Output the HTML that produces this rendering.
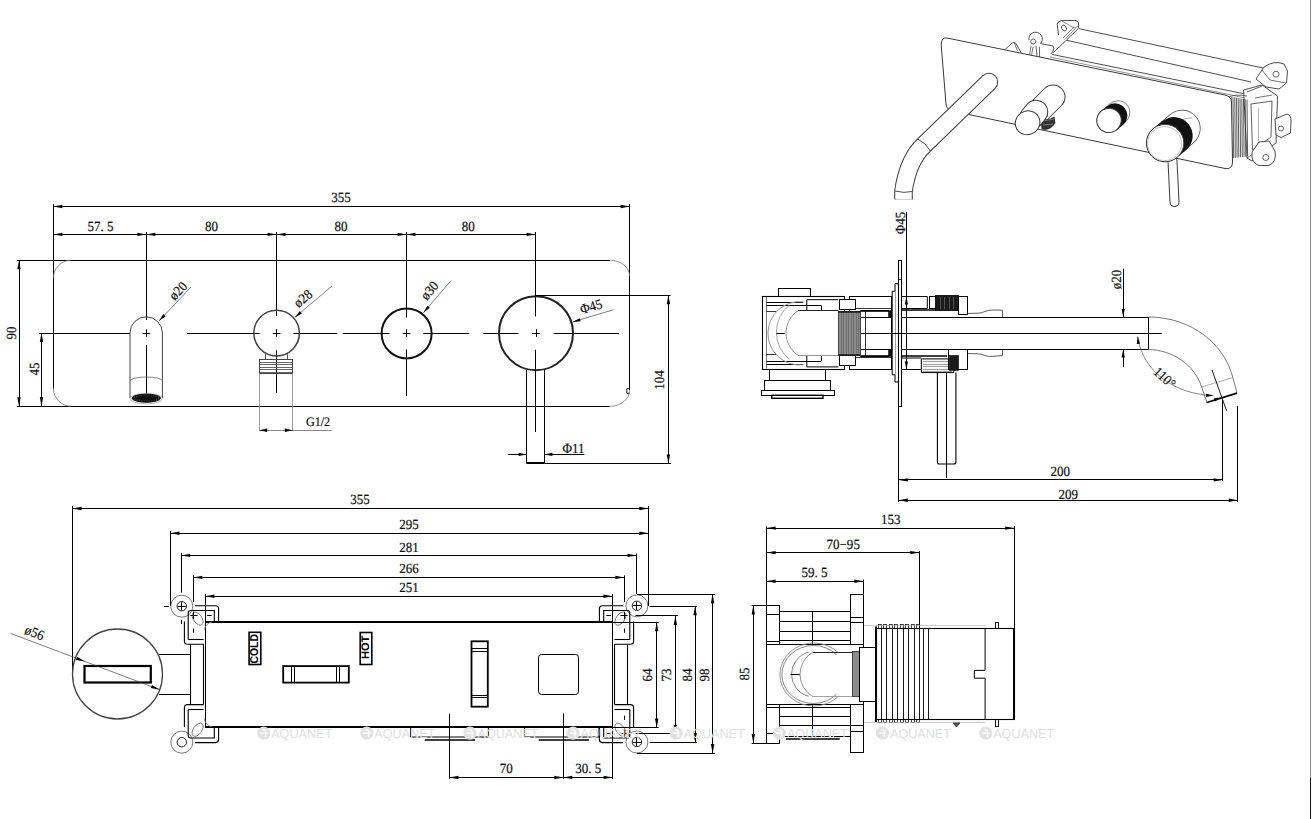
<!DOCTYPE html>
<html><head><meta charset="utf-8"><title>Drawing</title>
<style>html,body{margin:0;padding:0;background:#fff;} svg{display:block;} </style>
</head><body>
<svg width="1312" height="819" viewBox="0 0 1312 819">
<rect width="1312" height="819" fill="#fff"/>
<line x1="53.4" y1="206.5" x2="629.6" y2="206.5" stroke="#000" stroke-width="1.0" />
<path d="M53.4,206.5 L62.4,204.8 L62.4,208.2 Z" fill="#000"/>
<path d="M629.6,206.5 L620.6,208.2 L620.6,204.8 Z" fill="#000"/>
<text x="0" y="0" style="font-family:'Liberation Serif';font-size:14px;text-rendering:geometricPrecision" text-anchor="middle" fill="#111" stroke="#111" stroke-width="0.2" transform="translate(341.0 202.0) rotate(0) scale(0.93 1)" >355</text>
<line x1="53.5" y1="204.0" x2="53.5" y2="388.5" stroke="#000" stroke-width="1.0" />
<line x1="629.5" y1="204.0" x2="629.5" y2="390.0" stroke="#000" stroke-width="1.0" />
<line x1="53.4" y1="234.5" x2="146.4" y2="234.5" stroke="#000" stroke-width="1.0" />
<path d="M53.4,234.4 L62.4,232.7 L62.4,236.1 Z" fill="#000"/>
<path d="M146.4,234.4 L137.4,236.1 L137.4,232.7 Z" fill="#000"/>
<line x1="146.4" y1="234.5" x2="276.6" y2="234.5" stroke="#000" stroke-width="1.0" />
<path d="M146.4,234.4 L155.4,232.7 L155.4,236.1 Z" fill="#000"/>
<path d="M276.6,234.4 L267.6,236.1 L267.6,232.7 Z" fill="#000"/>
<line x1="276.6" y1="234.5" x2="406.6" y2="234.5" stroke="#000" stroke-width="1.0" />
<path d="M276.6,234.4 L285.6,232.7 L285.6,236.1 Z" fill="#000"/>
<path d="M406.6,234.4 L397.6,236.1 L397.6,232.7 Z" fill="#000"/>
<line x1="406.6" y1="234.5" x2="535.6" y2="234.5" stroke="#000" stroke-width="1.0" />
<path d="M406.6,234.4 L415.6,232.7 L415.6,236.1 Z" fill="#000"/>
<path d="M535.6,234.4 L526.6,236.1 L526.6,232.7 Z" fill="#000"/>
<text x="0" y="0" style="font-family:'Liberation Serif';font-size:14px;text-rendering:geometricPrecision" text-anchor="middle" fill="#111" stroke="#111" stroke-width="0.2" transform="translate(100.5 230.8) rotate(0) scale(0.93 1)" >57. 5</text>
<text x="0" y="0" style="font-family:'Liberation Serif';font-size:14px;text-rendering:geometricPrecision" text-anchor="middle" fill="#111" stroke="#111" stroke-width="0.2" transform="translate(211.4 230.8) rotate(0) scale(0.93 1)" >80</text>
<text x="0" y="0" style="font-family:'Liberation Serif';font-size:14px;text-rendering:geometricPrecision" text-anchor="middle" fill="#111" stroke="#111" stroke-width="0.2" transform="translate(341.0 230.8) rotate(0) scale(0.93 1)" >80</text>
<text x="0" y="0" style="font-family:'Liberation Serif';font-size:14px;text-rendering:geometricPrecision" text-anchor="middle" fill="#111" stroke="#111" stroke-width="0.2" transform="translate(468.3 230.8) rotate(0) scale(0.93 1)" >80</text>
<line x1="17.0" y1="260.5" x2="610.0" y2="260.5" stroke="#000" stroke-width="1.0" />
<line x1="17.0" y1="406.5" x2="609.7" y2="406.5" stroke="#000" stroke-width="1.0" />
<path d="M53.4,277.8 A18,18 0 0 1 70.5,260.2" stroke="#777" stroke-width="0.8" fill="none" />
<path d="M610,260.2 A19.6,16 0 0 1 629.6,276" stroke="#777" stroke-width="0.8" fill="none" />
<path d="M53.4,388.5 A18,18 0 0 0 71,406.3" stroke="#777" stroke-width="0.8" fill="none" />
<path d="M609.7,406.3 A19.6,16 0 0 0 629.6,390" stroke="#777" stroke-width="0.8" fill="none" />
<path d="M629.6,388.7 L626.8,388.7 L626.8,393.3 L629.6,393.3" stroke="#000" stroke-width="0.9" fill="none" />
<line x1="19.5" y1="260.2" x2="19.5" y2="406.3" stroke="#000" stroke-width="1.0" />
<path d="M19.0,260.2 L20.7,269.2 L17.3,269.2 Z" fill="#000"/>
<path d="M19.0,406.3 L17.3,397.3 L20.7,397.3 Z" fill="#000"/>
<text x="0" y="0" style="font-family:'Liberation Serif';font-size:14px;text-rendering:geometricPrecision" text-anchor="middle" fill="#111" stroke="#111" stroke-width="0.2" transform="translate(12.0 333.0) rotate(-90) scale(0.93 1)" dominant-baseline="central">90</text>
<line x1="41.5" y1="333.0" x2="41.5" y2="406.3" stroke="#000" stroke-width="1.0" />
<path d="M41.5,333.0 L43.2,342.0 L39.8,342.0 Z" fill="#000"/>
<path d="M41.5,406.3 L39.8,397.3 L43.2,397.3 Z" fill="#000"/>
<text x="0" y="0" style="font-family:'Liberation Serif';font-size:14px;text-rendering:geometricPrecision" text-anchor="middle" fill="#111" stroke="#111" stroke-width="0.2" transform="translate(35.0 369.0) rotate(-90) scale(0.93 1)" dominant-baseline="central">45</text>
<line x1="39.0" y1="333.5" x2="130.0" y2="333.5" stroke="#000" stroke-width="1.0" />
<line x1="187.0" y1="333.5" x2="259.6" y2="333.5" stroke="#000" stroke-width="1.0" />
<line x1="293.4" y1="333.5" x2="337.3" y2="333.5" stroke="#000" stroke-width="1.0" />
<line x1="342.8" y1="333.5" x2="389.5" y2="333.5" stroke="#000" stroke-width="1.0" />
<line x1="423.4" y1="333.5" x2="469.2" y2="333.5" stroke="#000" stroke-width="1.0" />
<line x1="483.3" y1="333.5" x2="518.5" y2="333.5" stroke="#000" stroke-width="1.0" />
<line x1="553.6" y1="333.5" x2="618.9" y2="333.5" stroke="#000" stroke-width="1.0" />
<line x1="142.6" y1="333.5" x2="150.2" y2="333.5" stroke="#000" stroke-width="1.0" />
<line x1="146.5" y1="329.2" x2="146.5" y2="336.8" stroke="#000" stroke-width="1.0" />
<line x1="272.8" y1="333.5" x2="280.4" y2="333.5" stroke="#000" stroke-width="1.0" />
<line x1="276.5" y1="329.2" x2="276.5" y2="336.8" stroke="#000" stroke-width="1.0" />
<line x1="402.8" y1="333.5" x2="410.4" y2="333.5" stroke="#000" stroke-width="1.0" />
<line x1="406.5" y1="329.2" x2="406.5" y2="336.8" stroke="#000" stroke-width="1.0" />
<line x1="532.2" y1="333.5" x2="539.8" y2="333.5" stroke="#000" stroke-width="1.0" />
<line x1="536.5" y1="329.2" x2="536.5" y2="336.8" stroke="#000" stroke-width="1.0" />
<line x1="146.5" y1="232.0" x2="146.5" y2="320.0" stroke="#000" stroke-width="1.0" />
<line x1="146.5" y1="345.0" x2="146.5" y2="402.0" stroke="#000" stroke-width="1.0" />
<line x1="276.5" y1="232.0" x2="276.5" y2="316.0" stroke="#000" stroke-width="1.0" />
<line x1="276.5" y1="350.3" x2="276.5" y2="393.0" stroke="#000" stroke-width="1.0" />
<line x1="406.5" y1="232.0" x2="406.5" y2="317.5" stroke="#000" stroke-width="1.0" />
<line x1="406.5" y1="349.5" x2="406.5" y2="396.0" stroke="#000" stroke-width="1.0" />
<line x1="535.5" y1="232.0" x2="535.5" y2="316.4" stroke="#000" stroke-width="1.0" />
<line x1="535.5" y1="349.8" x2="535.5" y2="432.0" stroke="#000" stroke-width="1.0" />
<path d="M130,333 A16.2,16.2 0 0 1 162.4,333 L162.4,398 M130,333 L130,398" stroke="#444" stroke-width="1.0" fill="none" />
<path d="M130,381 A16.2,4 0 0 1 162.4,381" stroke="#666" stroke-width="0.8" fill="none" />
<ellipse cx="146.3" cy="398.6" rx="16.2" ry="5.2" stroke="#999" stroke-width="0.7" fill="none" transform="rotate(0 146.3 398.6)"/>
<ellipse cx="146.3" cy="398.2" rx="14.2" ry="4.0" stroke="#111" stroke-width="1.0" fill="#111" transform="rotate(0 146.3 398.2)"/>
<line x1="134.3" y1="395.5" x2="134.9" y2="401.0" stroke="#777" stroke-width="0.5" />
<line x1="136.7" y1="395.5" x2="137.3" y2="401.0" stroke="#777" stroke-width="0.5" />
<line x1="139.1" y1="395.5" x2="139.7" y2="401.0" stroke="#777" stroke-width="0.5" />
<line x1="141.5" y1="395.5" x2="142.1" y2="401.0" stroke="#777" stroke-width="0.5" />
<line x1="143.9" y1="395.5" x2="144.5" y2="401.0" stroke="#777" stroke-width="0.5" />
<line x1="146.3" y1="395.5" x2="146.9" y2="401.0" stroke="#777" stroke-width="0.5" />
<line x1="148.7" y1="395.5" x2="149.3" y2="401.0" stroke="#777" stroke-width="0.5" />
<line x1="151.1" y1="395.5" x2="151.7" y2="401.0" stroke="#777" stroke-width="0.5" />
<line x1="153.5" y1="395.5" x2="154.1" y2="401.0" stroke="#777" stroke-width="0.5" />
<line x1="155.9" y1="395.5" x2="156.5" y2="401.0" stroke="#777" stroke-width="0.5" />
<line x1="158.3" y1="395.5" x2="158.9" y2="401.0" stroke="#777" stroke-width="0.5" />
<ellipse cx="146.3" cy="398.2" rx="10.5" ry="2.0" stroke="#111" stroke-width="0.5" fill="#111" transform="rotate(0 146.3 398.2)"/>
<circle cx="276.6" cy="333.1" r="22.8" stroke="#444" stroke-width="1.6" fill="none"/>
<line x1="265.5" y1="352.6" x2="265.5" y2="360.0" stroke="#444" stroke-width="0.9" />
<line x1="287.5" y1="352.6" x2="287.5" y2="360.0" stroke="#444" stroke-width="0.9" />
<rect x="259.5" y="359.5" width="33.0" height="14.0" stroke="#444" stroke-width="1.0" fill="none" rx="0"/>
<line x1="259.5" y1="362.5" x2="292.5" y2="362.5" stroke="#555" stroke-width="0.9" />
<line x1="259.5" y1="364.5" x2="292.5" y2="364.5" stroke="#555" stroke-width="0.9" />
<line x1="259.5" y1="367.5" x2="292.5" y2="367.5" stroke="#555" stroke-width="0.9" />
<line x1="259.5" y1="369.5" x2="292.5" y2="369.5" stroke="#555" stroke-width="0.9" />
<line x1="259.5" y1="372.5" x2="292.5" y2="372.5" stroke="#555" stroke-width="0.9" />
<line x1="259.5" y1="373.4" x2="259.5" y2="431.0" stroke="#777" stroke-width="0.7" />
<line x1="292.5" y1="373.4" x2="292.5" y2="431.0" stroke="#777" stroke-width="0.7" />
<line x1="259.2" y1="430.5" x2="331.8" y2="430.5" stroke="#555" stroke-width="0.7" />
<path d="M259.2,430.2 L267.2,428.5 L267.2,431.9 Z" fill="#000"/>
<path d="M292.8,430.2 L284.8,431.9 L284.8,428.5 Z" fill="#000"/>
<text x="0" y="0" style="font-family:'Liberation Serif';font-size:13px;text-rendering:geometricPrecision" text-anchor="middle" fill="#111" stroke="#111" stroke-width="0.2" transform="translate(318.0 425.5) rotate(0) scale(0.93 1)" >G1/2</text>
<circle cx="406.6" cy="333.4" r="25.0" stroke="#111" stroke-width="2.0" fill="none"/>
<circle cx="536.0" cy="333.2" r="37.0" stroke="#222" stroke-width="2.0" fill="none"/>
<line x1="526.5" y1="370.0" x2="526.5" y2="463.6" stroke="#000" stroke-width="1.0" />
<line x1="544.5" y1="370.0" x2="544.5" y2="463.6" stroke="#000" stroke-width="1.0" />
<line x1="526.6" y1="463.0" x2="544.4" y2="463.0" stroke="#000" stroke-width="2" />
<line x1="535.6" y1="295.5" x2="670.5" y2="295.5" stroke="#000" stroke-width="1.0" />
<line x1="544.4" y1="463.5" x2="671.0" y2="463.5" stroke="#000" stroke-width="1.0" />
<line x1="668.5" y1="295.3" x2="668.5" y2="463.6" stroke="#000" stroke-width="1.0" />
<path d="M668.4,295.3 L670.1,304.3 L666.7,304.3 Z" fill="#000"/>
<path d="M668.4,463.6 L666.7,454.6 L670.1,454.6 Z" fill="#000"/>
<text x="0" y="0" style="font-family:'Liberation Serif';font-size:14px;text-rendering:geometricPrecision" text-anchor="middle" fill="#111" stroke="#111" stroke-width="0.2" transform="translate(660.5 380.0) rotate(-90) scale(0.93 1)" dominant-baseline="central">104</text>
<line x1="508.0" y1="454.5" x2="526.6" y2="454.5" stroke="#000" stroke-width="1.0" />
<path d="M526.6,454.4 L518.6,456.1 L518.6,452.7 Z" fill="#000"/>
<line x1="544.4" y1="454.5" x2="584.4" y2="454.5" stroke="#000" stroke-width="1.0" />
<path d="M544.4,454.4 L552.4,452.7 L552.4,456.1 Z" fill="#000"/>
<text x="0" y="0" style="font-family:'Liberation Serif';font-size:14px;text-rendering:geometricPrecision" text-anchor="middle" fill="#111" stroke="#111" stroke-width="0.2" transform="translate(573.5 452.6) rotate(0) scale(0.93 1)" >&#934;11</text>
<line x1="159.0" y1="321.0" x2="191.0" y2="287.0" stroke="#444" stroke-width="0.7" />
<path d="M159.0,321.0 L163.3,314.1 L165.6,316.3 Z" fill="#000"/>
<text x="0" y="0" style="font-family:'Liberation Serif';font-size:14px;text-rendering:geometricPrecision" text-anchor="middle" fill="#111" stroke="#111" stroke-width="0.2" transform="translate(181.5 294.0) rotate(-46.7) scale(0.93 1)" >&#248;20</text>
<line x1="294.8" y1="317.4" x2="332.0" y2="286.0" stroke="#444" stroke-width="0.7" />
<path d="M294.8,317.4 L299.9,311.0 L301.9,313.5 Z" fill="#000"/>
<text x="0" y="0" style="font-family:'Liberation Serif';font-size:14px;text-rendering:geometricPrecision" text-anchor="middle" fill="#111" stroke="#111" stroke-width="0.2" transform="translate(306.0 302.0) rotate(-40.2) scale(0.93 1)" >&#248;28</text>
<line x1="423.4" y1="312.8" x2="450.9" y2="280.7" stroke="#444" stroke-width="0.7" />
<path d="M423.4,312.8 L427.4,305.7 L429.8,307.8 Z" fill="#000"/>
<text x="0" y="0" style="font-family:'Liberation Serif';font-size:14px;text-rendering:geometricPrecision" text-anchor="middle" fill="#111" stroke="#111" stroke-width="0.2" transform="translate(433.0 293.5) rotate(-49.4) scale(0.93 1)" >&#248;30</text>
<line x1="572.5" y1="322.0" x2="613.7" y2="309.7" stroke="#444" stroke-width="0.7" />
<path d="M572.5,322.0 L579.7,318.2 L580.6,321.2 Z" fill="#000"/>
<text x="0" y="0" style="font-family:'Liberation Serif';font-size:14px;text-rendering:geometricPrecision" text-anchor="middle" fill="#111" stroke="#111" stroke-width="0.2" transform="translate(592.5 311.0) rotate(-16.6) scale(0.93 1)" >&#934;45</text>
<rect x="898.5" y="260.5" width="3.0" height="146.0" stroke="#000" stroke-width="1.1" fill="none" rx="0"/>
<line x1="898.3" y1="279.5" x2="901.6" y2="279.5" stroke="#000" stroke-width="0.8" />
<line x1="898.5" y1="406.0" x2="898.5" y2="502.0" stroke="#000" stroke-width="1.0" />
<path d="M898.3,283.7 L895,283.7 L895,291.2 L892.2,291.2 L892.2,374.8 L895,374.8 L895,382 L898.3,382" stroke="#000" stroke-width="1.0" fill="none" />
<line x1="895.5" y1="291.2" x2="895.5" y2="374.8" stroke="#666" stroke-width="0.6" />
<line x1="906.5" y1="211.8" x2="906.5" y2="369.5" stroke="#000" stroke-width="1.0" />
<path d="M906.4,296.4 L908.0,304.4 L904.8,304.4 Z" fill="#000"/>
<path d="M906.4,369.5 L904.8,361.5 L908.0,361.5 Z" fill="#000"/>
<text x="0" y="0" style="font-family:'Liberation Serif';font-size:14px;text-rendering:geometricPrecision" text-anchor="middle" fill="#111" stroke="#111" stroke-width="0.2" transform="translate(901.8 223.0) rotate(-90) scale(0.93 1)" dominant-baseline="central">&#934;45</text>
<line x1="901.6" y1="296.5" x2="927.3" y2="296.5" stroke="#000" stroke-width="1.0" />
<line x1="901.6" y1="369.5" x2="927.3" y2="369.5" stroke="#000" stroke-width="1.0" />
<line x1="860.3" y1="310.5" x2="888.8" y2="310.5" stroke="#000" stroke-width="1.0" />
<line x1="860.3" y1="356.5" x2="888.8" y2="356.5" stroke="#000" stroke-width="1.0" />
<line x1="860.3" y1="317.5" x2="892.2" y2="317.5" stroke="#000" stroke-width="1.0" />
<line x1="860.3" y1="349.5" x2="892.2" y2="349.5" stroke="#000" stroke-width="1.0" />
<rect x="888.5" y="310.5" width="3.0" height="7.0" stroke="#000" stroke-width="0.5" fill="#111" rx="0"/>
<rect x="888.5" y="349.5" width="3.0" height="7.0" stroke="#000" stroke-width="0.5" fill="#111" rx="0"/>
<line x1="901.6" y1="317.5" x2="1148.7" y2="317.5" stroke="#000" stroke-width="1.0" />
<line x1="901.6" y1="349.5" x2="1148.7" y2="349.5" stroke="#000" stroke-width="1.0" />
<line x1="860.3" y1="333.5" x2="1161.8" y2="333.5" stroke="#000" stroke-width="1.0" />
<line x1="1148.5" y1="317.0" x2="1148.5" y2="349.5" stroke="#000" stroke-width="1.0" />
<path d="M901.6,308.5 L927.3,308.5 L927.3,296.5" stroke="#000" stroke-width="1.0" fill="none" />
<rect x="929.5" y="296.5" width="7.0" height="12.0" stroke="#000" stroke-width="1.0" fill="none" rx="0"/>
<rect x="935.5" y="295.5" width="23.0" height="15.0" stroke="#000" stroke-width="0.8" fill="#1a1a1a" rx="0"/>
<line x1="940.5" y1="297.0" x2="940.5" y2="309.0" stroke="#777" stroke-width="0.6" />
<line x1="944.5" y1="297.0" x2="944.5" y2="309.0" stroke="#777" stroke-width="0.6" />
<line x1="949.5" y1="297.0" x2="949.5" y2="309.0" stroke="#777" stroke-width="0.6" />
<line x1="953.5" y1="297.0" x2="953.5" y2="309.0" stroke="#777" stroke-width="0.6" />
<rect x="958.5" y="296.5" width="9.0" height="18.0" stroke="#000" stroke-width="1.0" fill="none" rx="0"/>
<line x1="901.6" y1="310.0" x2="935.8" y2="310.0" stroke="#000" stroke-width="1.6" />
<path d="M967.4,313.5 C975,313 980,314 985,311.5 C989,309.5 995,310 1002.5,310.2 L1002.5,317" stroke="#333" stroke-width="0.8" fill="none" />
<path d="M901.6,358 L921.3,358" stroke="#000" stroke-width="1.0" fill="none" />
<line x1="901.6" y1="356.0" x2="947.0" y2="356.0" stroke="#000" stroke-width="1.6" />
<path d="M967.4,353.6 C975,354 980,353 985,355.5 C989,357.5 995,355.8 1002.5,355.6 L1002.5,349.5" stroke="#333" stroke-width="0.8" fill="none" />
<path d="M921.3,358.9 L953.8,358.9 L953.8,372.6 L921.3,372.6 Z" stroke="#000" stroke-width="1.0" fill="#f8f8f8" />
<line x1="923.0" y1="361.5" x2="952.0" y2="361.5" stroke="#666" stroke-width="0.6" />
<line x1="923.0" y1="364.5" x2="952.0" y2="364.5" stroke="#666" stroke-width="0.6" />
<line x1="923.0" y1="366.5" x2="952.0" y2="366.5" stroke="#666" stroke-width="0.6" />
<line x1="923.0" y1="369.5" x2="952.0" y2="369.5" stroke="#666" stroke-width="0.6" />
<line x1="923.0" y1="371.5" x2="952.0" y2="371.5" stroke="#666" stroke-width="0.6" />
<rect x="948.5" y="349.5" width="19.0" height="20.0" stroke="#000" stroke-width="1.0" fill="none" rx="0"/>
<rect x="949.5" y="355.5" width="9.0" height="15.0" stroke="#000" stroke-width="0.6" fill="#1a1a1a" rx="0"/>
<path d="M937.4,372.6 L937.4,462 Q937.4,464 939.4,464 L953.9,464 Q955.9,464 955.9,462 L955.9,372.6" stroke="#000" stroke-width="1.1" fill="none" />
<line x1="946.5" y1="372.6" x2="946.5" y2="478.0" stroke="#000" stroke-width="1.0" />
<rect x="778.5" y="288.5" width="32.0" height="8.0" stroke="#000" stroke-width="1.0" fill="none" rx="0"/>
<rect x="762.5" y="296.5" width="82.0" height="73.0" stroke="#000" stroke-width="1.1" fill="none" rx="0"/>
<line x1="766.5" y1="297.0" x2="766.5" y2="368.5" stroke="#555" stroke-width="0.8" />
<line x1="766.4" y1="302.5" x2="803.2" y2="302.5" stroke="#000" stroke-width="1.0" />
<line x1="766.4" y1="305.5" x2="821.0" y2="305.5" stroke="#000" stroke-width="1.0" />
<line x1="821.5" y1="305.4" x2="821.5" y2="310.7" stroke="#000" stroke-width="1.0" />
<line x1="766.4" y1="364.5" x2="803.2" y2="364.5" stroke="#000" stroke-width="1.0" />
<line x1="766.4" y1="361.5" x2="821.0" y2="361.5" stroke="#000" stroke-width="1.0" />
<line x1="821.5" y1="355.9" x2="821.5" y2="361.2" stroke="#000" stroke-width="1.0" />
<line x1="766.4" y1="311.5" x2="776.4" y2="311.5" stroke="#000" stroke-width="0.8" />
<line x1="766.4" y1="354.5" x2="776.4" y2="354.5" stroke="#000" stroke-width="0.8" />
<path d="M806.8,310.7 L806.8,299.7 L838.4,299.7" stroke="#000" stroke-width="1.0" fill="none" />
<path d="M806.8,355.9 L806.8,366.9 L838.4,366.9" stroke="#000" stroke-width="1.0" fill="none" />
<path d="M803.2,301.8 A31.7,31.7 0 1 0 803.2,364.8" stroke="#999" stroke-width="1.0" fill="none" />
<path d="M789.5,304.9 A35,35 0 0 0 789.5,359.5" stroke="#999" stroke-width="0.9" fill="none" />
<path d="M798,310.7 A26.8,26.8 0 0 0 798,355.3" stroke="#888" stroke-width="0.9" fill="none" />
<line x1="798.0" y1="310.5" x2="838.4" y2="310.5" stroke="#222" stroke-width="1.1" />
<line x1="798.0" y1="355.5" x2="838.4" y2="355.5" stroke="#888" stroke-width="0.9" />
<line x1="776.4" y1="333.5" x2="784.5" y2="333.5" stroke="#000" stroke-width="1.0" />
<rect x="849.5" y="296.5" width="42.0" height="73.0" stroke="#000" stroke-width="1.0" fill="none" rx="0"/>
<line x1="855.0" y1="308.5" x2="891.0" y2="308.5" stroke="#000" stroke-width="0.8" />
<line x1="855.0" y1="311.5" x2="891.0" y2="311.5" stroke="#000" stroke-width="0.8" />
<line x1="855.0" y1="355.5" x2="891.0" y2="355.5" stroke="#000" stroke-width="0.8" />
<line x1="855.0" y1="357.5" x2="891.0" y2="357.5" stroke="#000" stroke-width="0.8" />
<line x1="865.5" y1="311.3" x2="865.5" y2="355.6" stroke="#000" stroke-width="0.8" />
<rect x="839.5" y="299.5" width="16.0" height="10.0" stroke="#000" stroke-width="1.0" fill="#fff" rx="0"/>
<rect x="839.5" y="355.5" width="16.0" height="10.0" stroke="#000" stroke-width="1.0" fill="#fff" rx="0"/>
<rect x="838.5" y="311.5" width="22.0" height="44.0" stroke="#222" stroke-width="0.8" fill="#8a8a8a" rx="0"/>
<line x1="841.5" y1="312.0" x2="841.5" y2="354.5" stroke="#555" stroke-width="0.5" />
<line x1="843.5" y1="312.0" x2="843.5" y2="354.5" stroke="#555" stroke-width="0.5" />
<line x1="846.5" y1="312.0" x2="846.5" y2="354.5" stroke="#555" stroke-width="0.5" />
<line x1="848.5" y1="312.0" x2="848.5" y2="354.5" stroke="#555" stroke-width="0.5" />
<line x1="851.5" y1="312.0" x2="851.5" y2="354.5" stroke="#555" stroke-width="0.5" />
<line x1="853.5" y1="312.0" x2="853.5" y2="354.5" stroke="#555" stroke-width="0.5" />
<line x1="856.5" y1="312.0" x2="856.5" y2="354.5" stroke="#555" stroke-width="0.5" />
<line x1="858.5" y1="312.0" x2="858.5" y2="354.5" stroke="#555" stroke-width="0.5" />
<line x1="838.7" y1="312.0" x2="860.3" y2="312.0" stroke="#111" stroke-width="1.4" />
<line x1="838.7" y1="355.0" x2="860.3" y2="355.0" stroke="#111" stroke-width="1.4" />
<rect x="769.5" y="369.5" width="56.0" height="11.0" stroke="#000" stroke-width="1.0" fill="none" rx="0"/>
<rect x="764.5" y="380.5" width="66.0" height="10.0" stroke="#000" stroke-width="1.0" fill="none" rx="0"/>
<rect x="761.5" y="390.5" width="73.0" height="5.0" stroke="#000" stroke-width="1.0" fill="none" rx="0"/>
<rect x="771.8" y="395.3" width="51.2" height="3.0" stroke="#000" stroke-width="1.4" fill="none" rx="0"/>
<line x1="1123.5" y1="268.7" x2="1123.5" y2="317.0" stroke="#000" stroke-width="1.0" />
<path d="M1123.2,317.0 L1121.6,309.0 L1124.8,309.0 Z" fill="#000"/>
<line x1="1123.5" y1="349.5" x2="1123.5" y2="367.2" stroke="#000" stroke-width="1.0" />
<path d="M1123.2,349.5 L1124.8,357.5 L1121.6,357.5 Z" fill="#000"/>
<text x="0" y="0" style="font-family:'Liberation Serif';font-size:14px;text-rendering:geometricPrecision" text-anchor="middle" fill="#111" stroke="#111" stroke-width="0.2" transform="translate(1117.5 279.5) rotate(-90) scale(0.93 1)" dominant-baseline="central">&#248;20</text>
<path d="M1148.7,317 C1192,317 1225,345 1232.8,377.6 L1237,393.2" stroke="#555" stroke-width="0.8" fill="none" />
<path d="M1148.7,349.5 C1172,350 1194,364 1201.7,387 L1206.8,402.5" stroke="#555" stroke-width="0.8" fill="none" />
<line x1="1201.7" y1="387.0" x2="1232.8" y2="377.6" stroke="#777" stroke-width="0.6" />
<line x1="1206.8" y1="402.5" x2="1237.0" y2="393.2" stroke="#000" stroke-width="1.8" />
<line x1="1212.0" y1="370.0" x2="1226.6" y2="410.8" stroke="#000" stroke-width="0.9" />
<path d="M1222.0,397.5 L1214.8,401.4 L1213.9,398.3 Z" fill="#000"/>
<path d="M1137.7,337 C1143,372 1175,394 1212,395.5" stroke="#555" stroke-width="0.7" fill="none" />
<path d="M1137.7,336.0 L1140.0,343.8 L1136.8,344.1 Z" fill="#000"/>
<path d="M1214.0,395.5 L1206.0,396.9 L1206.0,393.7 Z" fill="#000"/>
<text x="0" y="0" style="font-family:'Liberation Serif';font-size:14px;text-rendering:geometricPrecision" text-anchor="middle" fill="#111" stroke="#111" stroke-width="0.2" transform="translate(1161.5 381.0) rotate(42) scale(0.93 1)" >110&#176;</text>
<line x1="1222.5" y1="400.0" x2="1222.5" y2="481.0" stroke="#000" stroke-width="1.0" />
<line x1="1237.5" y1="406.0" x2="1237.5" y2="502.0" stroke="#000" stroke-width="1.0" />
<line x1="898.8" y1="479.5" x2="1222.6" y2="479.5" stroke="#000" stroke-width="1.0" />
<path d="M898.8,479.9 L907.8,478.2 L907.8,481.6 Z" fill="#000"/>
<path d="M1222.6,479.9 L1213.6,481.6 L1213.6,478.2 Z" fill="#000"/>
<text x="0" y="0" style="font-family:'Liberation Serif';font-size:14px;text-rendering:geometricPrecision" text-anchor="middle" fill="#111" stroke="#111" stroke-width="0.2" transform="translate(1060.2 475.6) rotate(0) scale(0.93 1)" >200</text>
<line x1="898.8" y1="500.5" x2="1237.7" y2="500.5" stroke="#000" stroke-width="1.0" />
<path d="M898.8,500.2 L907.8,498.5 L907.8,501.9 Z" fill="#000"/>
<path d="M1237.7,500.2 L1228.7,501.9 L1228.7,498.5 Z" fill="#000"/>
<text x="0" y="0" style="font-family:'Liberation Serif';font-size:14px;text-rendering:geometricPrecision" text-anchor="middle" fill="#111" stroke="#111" stroke-width="0.2" transform="translate(1068.3 498.7) rotate(0) scale(0.93 1)" >209</text>
<line x1="72.6" y1="508.5" x2="648.4" y2="508.5" stroke="#000" stroke-width="1.0" />
<path d="M72.6,508.5 L81.6,506.8 L81.6,510.2 Z" fill="#000"/>
<path d="M648.4,508.5 L639.4,510.2 L639.4,506.8 Z" fill="#000"/>
<text x="0" y="0" style="font-family:'Liberation Serif';font-size:14px;text-rendering:geometricPrecision" text-anchor="middle" fill="#111" stroke="#111" stroke-width="0.2" transform="translate(360.0 504.1) rotate(0) scale(0.93 1)" >355</text>
<line x1="170.5" y1="533.5" x2="648.4" y2="533.5" stroke="#000" stroke-width="1.0" />
<path d="M170.5,533.2 L179.5,531.5 L179.5,534.9 Z" fill="#000"/>
<path d="M648.4,533.2 L639.4,534.9 L639.4,531.5 Z" fill="#000"/>
<text x="0" y="0" style="font-family:'Liberation Serif';font-size:14px;text-rendering:geometricPrecision" text-anchor="middle" fill="#111" stroke="#111" stroke-width="0.2" transform="translate(409.0 529.0) rotate(0) scale(0.93 1)" >295</text>
<line x1="181.2" y1="555.5" x2="636.5" y2="555.5" stroke="#000" stroke-width="1.0" />
<path d="M181.2,555.4 L190.2,553.7 L190.2,557.1 Z" fill="#000"/>
<path d="M636.5,555.4 L627.5,557.1 L627.5,553.7 Z" fill="#000"/>
<text x="0" y="0" style="font-family:'Liberation Serif';font-size:14px;text-rendering:geometricPrecision" text-anchor="middle" fill="#111" stroke="#111" stroke-width="0.2" transform="translate(409.0 551.6) rotate(0) scale(0.93 1)" >281</text>
<line x1="193.3" y1="577.5" x2="624.4" y2="577.5" stroke="#000" stroke-width="1.0" />
<path d="M193.3,577.4 L202.3,575.7 L202.3,579.1 Z" fill="#000"/>
<path d="M624.4,577.4 L615.4,579.1 L615.4,575.7 Z" fill="#000"/>
<text x="0" y="0" style="font-family:'Liberation Serif';font-size:14px;text-rendering:geometricPrecision" text-anchor="middle" fill="#111" stroke="#111" stroke-width="0.2" transform="translate(409.0 572.7) rotate(0) scale(0.93 1)" >266</text>
<line x1="205.4" y1="596.5" x2="612.5" y2="596.5" stroke="#000" stroke-width="1.0" />
<path d="M205.4,596.3 L214.4,594.6 L214.4,598.0 Z" fill="#000"/>
<path d="M612.5,596.3 L603.5,598.0 L603.5,594.6 Z" fill="#000"/>
<text x="0" y="0" style="font-family:'Liberation Serif';font-size:14px;text-rendering:geometricPrecision" text-anchor="middle" fill="#111" stroke="#111" stroke-width="0.2" transform="translate(409.0 592.4) rotate(0) scale(0.93 1)" >251</text>
<line x1="72.5" y1="506.0" x2="72.5" y2="675.0" stroke="#000" stroke-width="1.0" />
<line x1="170.5" y1="531.0" x2="170.5" y2="605.8" stroke="#000" stroke-width="1.0" />
<line x1="193.5" y1="575.0" x2="193.5" y2="602.0" stroke="#000" stroke-width="1.0" />
<line x1="181.5" y1="553.0" x2="181.5" y2="592.6" stroke="#000" stroke-width="1.0" />
<line x1="181.5" y1="620.0" x2="181.5" y2="624.0" stroke="#000" stroke-width="1.0" />
<line x1="205.5" y1="594.0" x2="205.5" y2="728.0" stroke="#000" stroke-width="1.0" />
<line x1="648.5" y1="506.0" x2="648.5" y2="606.0" stroke="#000" stroke-width="1.0" />
<line x1="636.5" y1="553.6" x2="636.5" y2="594.0" stroke="#000" stroke-width="1.0" />
<line x1="624.5" y1="575.4" x2="624.5" y2="602.0" stroke="#000" stroke-width="1.0" />
<line x1="612.5" y1="594.0" x2="612.5" y2="779.0" stroke="#000" stroke-width="1.0" />
<line x1="205.3" y1="622.0" x2="612.6" y2="622.0" stroke="#000" stroke-width="2.0" />
<line x1="205.3" y1="727.0" x2="612.6" y2="727.0" stroke="#000" stroke-width="2.0" />
<circle cx="181.8" cy="606.2" r="11.0" stroke="#666" stroke-width="0.9" fill="none"/>
<circle cx="181.8" cy="606.2" r="4.7" stroke="#222" stroke-width="1.0" fill="none"/>
<line x1="177.8" y1="606.5" x2="185.8" y2="606.5" stroke="#000" stroke-width="1.0" />
<line x1="181.5" y1="602.2" x2="181.5" y2="610.2" stroke="#000" stroke-width="1.0" />
<line x1="163.8" y1="606.5" x2="168.8" y2="606.5" stroke="#000" stroke-width="1.0" />
<circle cx="181.8" cy="742.2" r="11.0" stroke="#666" stroke-width="0.9" fill="none"/>
<circle cx="181.8" cy="742.2" r="4.7" stroke="#222" stroke-width="1.0" fill="none"/>
<circle cx="636.9" cy="605.8" r="11.0" stroke="#666" stroke-width="0.9" fill="none"/>
<circle cx="636.9" cy="605.8" r="4.7" stroke="#222" stroke-width="1.0" fill="none"/>
<line x1="632.9" y1="605.5" x2="640.9" y2="605.5" stroke="#000" stroke-width="1.0" />
<line x1="636.5" y1="601.8" x2="636.5" y2="609.8" stroke="#000" stroke-width="1.0" />
<circle cx="636.9" cy="742.0" r="11.0" stroke="#666" stroke-width="0.9" fill="none"/>
<circle cx="636.9" cy="742.0" r="4.7" stroke="#222" stroke-width="1.0" fill="none"/>
<line x1="632.9" y1="742.5" x2="640.9" y2="742.5" stroke="#000" stroke-width="1.0" />
<line x1="636.5" y1="738.0" x2="636.5" y2="746.0" stroke="#000" stroke-width="1.0" />
<path d="M195,605.8 L215.6,605.8 Q218.6,605.8 218.6,608.8 L218.6,622" stroke="#000" stroke-width="1.1" fill="none" />
<path d="M188.2,639.4 L188.2,613 Q188.2,610.5 190.7,610.5 L214.3,610.5 L214.3,622" stroke="#000" stroke-width="1.1" fill="none" />
<path d="M184.4,621.6 L184.4,641 Q184.4,644.3 187.5,644.3 L203.6,644.3" stroke="#000" stroke-width="1.1" fill="none" />
<line x1="188.2" y1="639.5" x2="203.6" y2="639.5" stroke="#000" stroke-width="1.1" />
<line x1="190.5" y1="644.3" x2="190.5" y2="704.2" stroke="#000" stroke-width="1.1" />
<line x1="203.5" y1="644.3" x2="203.5" y2="704.2" stroke="#000" stroke-width="1.1" />
<path d="M184.4,727 L184.4,708 Q184.4,704.6 187.5,704.6 L203.6,704.6" stroke="#000" stroke-width="1.1" fill="none" />
<path d="M188.2,709.5 L188.2,735.5 Q188.2,738 190.7,738 L214.3,738 L214.3,726.8" stroke="#000" stroke-width="1.1" fill="none" />
<line x1="188.2" y1="709.5" x2="203.6" y2="709.5" stroke="#000" stroke-width="1.1" />
<path d="M195,742.6 L215.6,742.6 Q218.6,742.6 218.6,739.6 L218.6,726.8" stroke="#000" stroke-width="1.1" fill="none" />
<ellipse cx="197.6" cy="618.6" rx="7.5" ry="4.2" stroke="#777" stroke-width="0.9" fill="none" transform="rotate(55 197.6 618.6)"/>
<ellipse cx="197.6" cy="729.8" rx="7.5" ry="4.2" stroke="#777" stroke-width="0.9" fill="none" transform="rotate(-55 197.6 729.8)"/>
<path d="M204.4,630 A9,9 0 0 1 212.1,622" stroke="#888" stroke-width="0.8" fill="none" />
<path d="M204.4,718.8 A9,9 0 0 0 212.1,726.8" stroke="#888" stroke-width="0.8" fill="none" />
<path d="M623,605.8 L602.4,605.8 Q599.4,605.8 599.4,608.8 L599.4,622" stroke="#000" stroke-width="1.1" fill="none" />
<path d="M629.8,639.4 L629.8,613 Q629.8,610.5 627.3,610.5 L603.7,610.5 L603.7,622" stroke="#000" stroke-width="1.1" fill="none" />
<path d="M633.6,621.6 L633.6,641 Q633.6,644.3 630.5,644.3 L614.4,644.3" stroke="#000" stroke-width="1.1" fill="none" />
<line x1="629.8" y1="639.5" x2="614.4" y2="639.5" stroke="#000" stroke-width="1.1" />
<line x1="627.5" y1="644.3" x2="627.5" y2="704.2" stroke="#000" stroke-width="1.1" />
<line x1="614.5" y1="644.3" x2="614.5" y2="704.2" stroke="#000" stroke-width="1.1" />
<path d="M633.6,727 L633.6,708 Q633.6,704.6 630.5,704.6 L614.4,704.6" stroke="#000" stroke-width="1.1" fill="none" />
<path d="M629.8,709.5 L629.8,735.5 Q629.8,738 627.3,738 L603.7,738 L603.7,726.8" stroke="#000" stroke-width="1.1" fill="none" />
<line x1="629.8" y1="709.5" x2="614.4" y2="709.5" stroke="#000" stroke-width="1.1" />
<path d="M623,742.6 L602.4,742.6 Q599.4,742.6 599.4,739.6 L599.4,726.8" stroke="#000" stroke-width="1.1" fill="none" />
<ellipse cx="620.4" cy="618.6" rx="7.5" ry="4.2" stroke="#777" stroke-width="0.9" fill="none" transform="rotate(-55 620.4 618.6)"/>
<ellipse cx="620.4" cy="729.8" rx="7.5" ry="4.2" stroke="#777" stroke-width="0.9" fill="none" transform="rotate(55 620.4 729.8)"/>
<line x1="190.3" y1="615.5" x2="197.6" y2="615.5" stroke="#000" stroke-width="1.0" />
<line x1="193.5" y1="611.7" x2="193.5" y2="619.0" stroke="#000" stroke-width="1.0" />
<line x1="207.0" y1="615.5" x2="211.7" y2="615.5" stroke="#000" stroke-width="1.0" />
<line x1="193.5" y1="628.5" x2="193.5" y2="632.7" stroke="#000" stroke-width="1.0" />
<line x1="627.7" y1="615.5" x2="620.4" y2="615.5" stroke="#000" stroke-width="1.0" />
<line x1="624.5" y1="611.7" x2="624.5" y2="619.0" stroke="#000" stroke-width="1.0" />
<line x1="611.0" y1="615.5" x2="606.3" y2="615.5" stroke="#000" stroke-width="1.0" />
<line x1="624.5" y1="628.5" x2="624.5" y2="632.7" stroke="#000" stroke-width="1.0" />
<line x1="627.7" y1="733.5" x2="620.4" y2="733.5" stroke="#000" stroke-width="1.0" />
<line x1="624.5" y1="736.7" x2="624.5" y2="729.4" stroke="#000" stroke-width="1.0" />
<line x1="611.0" y1="733.5" x2="606.3" y2="733.5" stroke="#000" stroke-width="1.0" />
<line x1="624.5" y1="719.9" x2="624.5" y2="715.7" stroke="#000" stroke-width="1.0" />
<circle cx="117.5" cy="674.0" r="45.0" stroke="#444" stroke-width="1.3" fill="none"/>
<rect x="84.5" y="666.0" width="66.3" height="16.5" stroke="#000" stroke-width="2.2" fill="none" rx="0"/>
<line x1="159.0" y1="654.5" x2="190.6" y2="654.5" stroke="#000" stroke-width="1.0" />
<line x1="159.0" y1="694.5" x2="190.6" y2="694.5" stroke="#000" stroke-width="1.0" />
<line x1="190.5" y1="645.3" x2="190.5" y2="704.3" stroke="#000" stroke-width="1.0" />
<line x1="10.3" y1="633.3" x2="159.8" y2="689.7" stroke="#444" stroke-width="0.7" />
<path d="M85.0,661.5 L76.0,659.9 L77.2,656.7 Z" fill="#000"/>
<path d="M159.8,689.7 L150.8,688.1 L152.0,684.9 Z" fill="#000"/>
<text x="0" y="0" style="font-family:'Liberation Serif';font-size:14px;text-rendering:geometricPrecision" text-anchor="middle" fill="#111" stroke="#111" stroke-width="0.2" transform="translate(33.0 637.0) rotate(20.7) scale(0.93 1)" >&#248;56</text>
<rect x="249.1" y="632.3" width="11.7" height="32.2" stroke="#000" stroke-width="1.6" fill="none" rx="0"/>
<text x="0" y="0" style="font-family:'Liberation Sans';font-size:11.5px;text-rendering:geometricPrecision" text-anchor="middle" fill="#000" transform="translate(255.3 648.8) rotate(-90) scale(1 1)" font-weight="bold" dominant-baseline="central" textLength="29.5" lengthAdjust="spacingAndGlyphs">COLD</text>
<rect x="360.2" y="632.5" width="11.6" height="32.0" stroke="#000" stroke-width="1.6" fill="none" rx="0"/>
<text x="0" y="0" style="font-family:'Liberation Sans';font-size:11px;text-rendering:geometricPrecision" text-anchor="middle" fill="#000" transform="translate(366.2 647.4) rotate(-90) scale(1 1)" font-weight="bold" dominant-baseline="central" textLength="23.4" lengthAdjust="spacingAndGlyphs">HOT</text>
<rect x="283.2" y="666.1" width="65.6" height="16.5" stroke="#000" stroke-width="1.8" fill="none" rx="0"/>
<line x1="291.5" y1="666.1" x2="291.5" y2="682.6" stroke="#000" stroke-width="1.0" />
<line x1="294.5" y1="666.1" x2="294.5" y2="682.6" stroke="#000" stroke-width="1.0" />
<line x1="336.5" y1="666.1" x2="336.5" y2="682.6" stroke="#000" stroke-width="1.0" />
<line x1="339.5" y1="666.1" x2="339.5" y2="682.6" stroke="#000" stroke-width="1.0" />
<rect x="471.5" y="641.3" width="16.3" height="65.4" stroke="#000" stroke-width="1.8" fill="none" rx="0"/>
<line x1="471.5" y1="648.5" x2="487.8" y2="648.5" stroke="#000" stroke-width="1.0" />
<line x1="471.5" y1="651.5" x2="487.8" y2="651.5" stroke="#000" stroke-width="1.0" />
<line x1="471.5" y1="695.5" x2="487.8" y2="695.5" stroke="#000" stroke-width="1.0" />
<line x1="471.5" y1="697.5" x2="487.8" y2="697.5" stroke="#000" stroke-width="1.0" />
<rect x="538.5" y="654.5" width="40.0" height="40.0" stroke="#000" stroke-width="1.0" fill="none" rx="3"/>
<path d="M410.6,726.8 L410.6,737 L488.4,737 L488.4,726.8" stroke="#000" stroke-width="1.0" fill="none" />
<line x1="424.7" y1="740.0" x2="475.0" y2="740.0" stroke="#000" stroke-width="1.6" />
<path d="M524.6,726.8 L524.6,737 L599,737 L599,726.8" stroke="#000" stroke-width="1.0" fill="none" />
<line x1="538.7" y1="740.0" x2="589.0" y2="740.0" stroke="#000" stroke-width="1.6" />
<line x1="449.5" y1="713.7" x2="449.5" y2="778.6" stroke="#000" stroke-width="1.0" />
<line x1="563.5" y1="713.3" x2="563.5" y2="778.7" stroke="#000" stroke-width="1.0" />
<line x1="449.5" y1="777.5" x2="563.3" y2="777.5" stroke="#000" stroke-width="1.0" />
<path d="M449.5,777.5 L458.5,775.8 L458.5,779.2 Z" fill="#000"/>
<path d="M563.3,777.5 L554.3,779.2 L554.3,775.8 Z" fill="#000"/>
<text x="0" y="0" style="font-family:'Liberation Serif';font-size:14px;text-rendering:geometricPrecision" text-anchor="middle" fill="#111" stroke="#111" stroke-width="0.2" transform="translate(506.3 772.9) rotate(0) scale(0.93 1)" >70</text>
<line x1="563.3" y1="777.5" x2="612.6" y2="777.5" stroke="#000" stroke-width="1.0" />
<path d="M563.3,777.4 L572.3,775.7 L572.3,779.1 Z" fill="#000"/>
<path d="M612.6,777.4 L603.6,779.1 L603.6,775.7 Z" fill="#000"/>
<text x="0" y="0" style="font-family:'Liberation Serif';font-size:14px;text-rendering:geometricPrecision" text-anchor="middle" fill="#111" stroke="#111" stroke-width="0.2" transform="translate(588.2 772.8) rotate(0) scale(0.93 1)" >30. 5</text>
<line x1="612.6" y1="622.5" x2="658.7" y2="622.5" stroke="#000" stroke-width="1.0" />
<line x1="612.6" y1="727.5" x2="658.7" y2="727.5" stroke="#000" stroke-width="1.0" />
<line x1="635.6" y1="615.5" x2="678.0" y2="615.5" stroke="#000" stroke-width="1.0" />
<line x1="635.6" y1="733.5" x2="678.0" y2="733.5" stroke="#000" stroke-width="1.0" />
<line x1="649.7" y1="606.5" x2="697.0" y2="606.5" stroke="#000" stroke-width="1.0" />
<line x1="649.7" y1="742.5" x2="697.0" y2="742.5" stroke="#000" stroke-width="1.0" />
<line x1="636.9" y1="594.5" x2="715.0" y2="594.5" stroke="#000" stroke-width="1.0" />
<line x1="636.9" y1="753.5" x2="715.0" y2="753.5" stroke="#000" stroke-width="1.0" />
<line x1="656.5" y1="622.3" x2="656.5" y2="727.4" stroke="#000" stroke-width="1.0" />
<path d="M656.7,622.3 L658.4,631.3 L655.0,631.3 Z" fill="#000"/>
<path d="M656.7,727.4 L655.0,718.4 L658.4,718.4 Z" fill="#000"/>
<text x="0" y="0" style="font-family:'Liberation Serif';font-size:14px;text-rendering:geometricPrecision" text-anchor="middle" fill="#111" stroke="#111" stroke-width="0.2" transform="translate(648.5 675.0) rotate(-90) scale(0.93 1)" dominant-baseline="central">64</text>
<line x1="675.5" y1="615.9" x2="675.5" y2="733.8" stroke="#000" stroke-width="1.0" />
<path d="M675.4,615.9 L677.1,624.9 L673.7,624.9 Z" fill="#000"/>
<path d="M675.4,733.8 L673.7,724.8 L677.1,724.8 Z" fill="#000"/>
<text x="0" y="0" style="font-family:'Liberation Serif';font-size:14px;text-rendering:geometricPrecision" text-anchor="middle" fill="#111" stroke="#111" stroke-width="0.2" transform="translate(667.7 675.0) rotate(-90) scale(0.93 1)" dominant-baseline="central">73</text>
<line x1="695.5" y1="606.2" x2="695.5" y2="742.0" stroke="#000" stroke-width="1.0" />
<path d="M695.1,606.2 L696.8,615.2 L693.4,615.2 Z" fill="#000"/>
<path d="M695.1,742.0 L693.4,733.0 L696.8,733.0 Z" fill="#000"/>
<text x="0" y="0" style="font-family:'Liberation Serif';font-size:14px;text-rendering:geometricPrecision" text-anchor="middle" fill="#111" stroke="#111" stroke-width="0.2" transform="translate(688.2 675.0) rotate(-90) scale(0.93 1)" dominant-baseline="central">84</text>
<line x1="712.5" y1="594.2" x2="712.5" y2="753.1" stroke="#000" stroke-width="1.0" />
<path d="M712.6,594.2 L714.3,603.2 L710.9,603.2 Z" fill="#000"/>
<path d="M712.6,753.1 L710.9,744.1 L714.3,744.1 Z" fill="#000"/>
<text x="0" y="0" style="font-family:'Liberation Serif';font-size:14px;text-rendering:geometricPrecision" text-anchor="middle" fill="#111" stroke="#111" stroke-width="0.2" transform="translate(705.0 675.0) rotate(-90) scale(0.93 1)" dominant-baseline="central">98</text>
<line x1="766.6" y1="528.5" x2="1014.2" y2="528.5" stroke="#000" stroke-width="1.0" />
<path d="M766.6,528.1 L775.6,526.4 L775.6,529.8 Z" fill="#000"/>
<path d="M1014.2,528.1 L1005.2,529.8 L1005.2,526.4 Z" fill="#000"/>
<text x="0" y="0" style="font-family:'Liberation Serif';font-size:14px;text-rendering:geometricPrecision" text-anchor="middle" fill="#111" stroke="#111" stroke-width="0.2" transform="translate(890.8 524.0) rotate(0) scale(0.93 1)" >153</text>
<line x1="766.6" y1="552.5" x2="919.3" y2="552.5" stroke="#000" stroke-width="1.0" />
<path d="M766.6,552.6 L775.6,550.9 L775.6,554.3 Z" fill="#000"/>
<path d="M919.3,552.6 L910.3,554.3 L910.3,550.9 Z" fill="#000"/>
<text x="0" y="0" style="font-family:'Liberation Serif';font-size:14px;text-rendering:geometricPrecision" text-anchor="middle" fill="#111" stroke="#111" stroke-width="0.2" transform="translate(843.2 548.5) rotate(0) scale(0.93 1)" >70&#8722;95</text>
<line x1="766.6" y1="581.5" x2="863.3" y2="581.5" stroke="#000" stroke-width="1.0" />
<path d="M766.6,581.2 L775.6,579.5 L775.6,582.9 Z" fill="#000"/>
<path d="M863.3,581.2 L854.3,582.9 L854.3,579.5 Z" fill="#000"/>
<text x="0" y="0" style="font-family:'Liberation Serif';font-size:14px;text-rendering:geometricPrecision" text-anchor="middle" fill="#111" stroke="#111" stroke-width="0.2" transform="translate(814.6 577.3) rotate(0) scale(0.93 1)" >59. 5</text>
<line x1="766.5" y1="526.3" x2="766.5" y2="743.1" stroke="#000" stroke-width="1.0" />
<line x1="1014.5" y1="526.0" x2="1014.5" y2="628.3" stroke="#000" stroke-width="1.0" />
<line x1="919.5" y1="551.0" x2="919.5" y2="628.3" stroke="#000" stroke-width="1.0" />
<line x1="863.5" y1="579.5" x2="863.5" y2="594.6" stroke="#000" stroke-width="1.0" />
<line x1="753.5" y1="605.6" x2="753.5" y2="743.1" stroke="#000" stroke-width="1.0" />
<path d="M753.3,605.6 L755.0,614.6 L751.6,614.6 Z" fill="#000"/>
<path d="M753.3,743.1 L751.6,734.1 L755.0,734.1 Z" fill="#000"/>
<text x="0" y="0" style="font-family:'Liberation Serif';font-size:14px;text-rendering:geometricPrecision" text-anchor="middle" fill="#111" stroke="#111" stroke-width="0.2" transform="translate(745.3 674.0) rotate(-90) scale(0.93 1)" dominant-baseline="central">85</text>
<line x1="751.6" y1="605.5" x2="779.6" y2="605.5" stroke="#000" stroke-width="1.0" />
<line x1="751.6" y1="743.5" x2="779.6" y2="743.5" stroke="#000" stroke-width="1.0" />
<line x1="779.5" y1="605.6" x2="779.5" y2="644.4" stroke="#000" stroke-width="1.0" />
<line x1="779.5" y1="704.6" x2="779.5" y2="743.1" stroke="#000" stroke-width="1.0" />
<line x1="766.6" y1="605.5" x2="779.6" y2="605.5" stroke="#000" stroke-width="1.0" />
<line x1="766.6" y1="614.5" x2="779.6" y2="614.5" stroke="#000" stroke-width="1.0" />
<line x1="766.6" y1="641.5" x2="779.6" y2="641.5" stroke="#000" stroke-width="1.0" />
<line x1="766.6" y1="707.5" x2="779.6" y2="707.5" stroke="#000" stroke-width="1.0" />
<line x1="766.6" y1="733.5" x2="779.6" y2="733.5" stroke="#000" stroke-width="1.0" />
<line x1="766.6" y1="743.5" x2="779.6" y2="743.5" stroke="#000" stroke-width="1.0" />
<line x1="779.6" y1="611.5" x2="850.1" y2="611.5" stroke="#000" stroke-width="1.0" />
<line x1="779.6" y1="621.5" x2="850.1" y2="621.5" stroke="#000" stroke-width="1.0" />
<line x1="779.6" y1="631.5" x2="850.1" y2="631.5" stroke="#000" stroke-width="1.0" />
<line x1="779.6" y1="640.5" x2="850.1" y2="640.5" stroke="#000" stroke-width="1.0" />
<line x1="779.6" y1="707.5" x2="850.1" y2="707.5" stroke="#000" stroke-width="1.0" />
<line x1="779.6" y1="716.5" x2="850.1" y2="716.5" stroke="#000" stroke-width="1.0" />
<line x1="779.6" y1="725.5" x2="850.1" y2="725.5" stroke="#000" stroke-width="1.0" />
<line x1="779.6" y1="736.5" x2="850.1" y2="736.5" stroke="#000" stroke-width="1.0" />
<line x1="766.6" y1="644.5" x2="863.2" y2="644.5" stroke="#000" stroke-width="1.0" />
<line x1="766.6" y1="704.5" x2="863.2" y2="704.5" stroke="#000" stroke-width="1.0" />
<line x1="812.5" y1="611.4" x2="812.5" y2="644.4" stroke="#000" stroke-width="1.0" />
<line x1="812.5" y1="704.6" x2="812.5" y2="736.3" stroke="#000" stroke-width="1.0" />
<line x1="850.5" y1="594.6" x2="850.5" y2="644.4" stroke="#000" stroke-width="1.0" />
<line x1="850.5" y1="704.6" x2="850.5" y2="752.9" stroke="#000" stroke-width="1.0" />
<line x1="863.5" y1="594.6" x2="863.5" y2="647.7" stroke="#000" stroke-width="1.0" />
<line x1="863.5" y1="701.0" x2="863.5" y2="752.9" stroke="#000" stroke-width="1.0" />
<line x1="850.1" y1="594.5" x2="863.2" y2="594.5" stroke="#000" stroke-width="1.0" />
<line x1="850.1" y1="617.5" x2="863.2" y2="617.5" stroke="#000" stroke-width="1.0" />
<line x1="850.1" y1="622.5" x2="863.2" y2="622.5" stroke="#000" stroke-width="1.0" />
<line x1="850.1" y1="725.5" x2="863.2" y2="725.5" stroke="#000" stroke-width="1.0" />
<line x1="850.1" y1="731.5" x2="863.2" y2="731.5" stroke="#000" stroke-width="1.0" />
<line x1="850.1" y1="752.5" x2="863.2" y2="752.5" stroke="#000" stroke-width="1.0" />
<path d="M838.5,652.8 A34,31.5 0 1 0 838.5,696.2" stroke="#888" stroke-width="0.9" fill="none" />
<path d="M836.5,654.8 A31.5,29 0 1 0 836.5,694.2" stroke="#777" stroke-width="0.9" fill="none" />
<path d="M808.5,652.2 A22.8,22.8 0 0 0 808.5,696.3" stroke="#777" stroke-width="0.9" fill="none" />
<path d="M813.1,651.8 A25.9,25.9 0 0 0 813.1,696.8" stroke="#888" stroke-width="0.9" fill="none" />
<line x1="813.1" y1="652.5" x2="852.2" y2="652.5" stroke="#222" stroke-width="1.1" />
<line x1="813.1" y1="696.5" x2="852.2" y2="696.5" stroke="#999" stroke-width="0.9" />
<line x1="790.4" y1="674.5" x2="799.7" y2="674.5" stroke="#000" stroke-width="1.1" />
<rect x="852.5" y="651.5" width="7.0" height="45.0" stroke="#222" stroke-width="0.8" fill="#8c8c8c" rx="0"/>
<rect x="859.5" y="647.5" width="16.0" height="54.0" stroke="#000" stroke-width="1.0" fill="none" rx="0"/>
<rect x="876.5" y="628.5" width="138.0" height="91.0" stroke="#000" stroke-width="1.1" fill="none" rx="0"/>
<line x1="876.0" y1="626.4" x2="876.0" y2="722.1" stroke="#000" stroke-width="2.0" />
<line x1="1014.0" y1="628.3" x2="1014.0" y2="719.2" stroke="#000" stroke-width="2.0" />
<line x1="881.5" y1="628.3" x2="881.5" y2="719.2" stroke="#000" stroke-width="0.9" />
<line x1="886.5" y1="628.3" x2="886.5" y2="719.2" stroke="#000" stroke-width="0.9" />
<line x1="892.5" y1="628.3" x2="892.5" y2="719.2" stroke="#000" stroke-width="0.9" />
<line x1="897.5" y1="628.3" x2="897.5" y2="719.2" stroke="#000" stroke-width="0.9" />
<line x1="903.5" y1="628.3" x2="903.5" y2="719.2" stroke="#000" stroke-width="0.9" />
<line x1="908.5" y1="628.3" x2="908.5" y2="719.2" stroke="#000" stroke-width="0.9" />
<line x1="914.5" y1="628.3" x2="914.5" y2="719.2" stroke="#000" stroke-width="0.9" />
<line x1="919.5" y1="628.3" x2="919.5" y2="719.2" stroke="#000" stroke-width="0.9" />
<line x1="923.5" y1="628.3" x2="923.5" y2="719.2" stroke="#000" stroke-width="0.9" />
<line x1="928.5" y1="628.3" x2="928.5" y2="719.2" stroke="#000" stroke-width="0.9" />
<rect x="878.5" y="624.5" width="3.0" height="4.0" stroke="#000" stroke-width="0.7" fill="none" rx="0"/>
<rect x="878.5" y="719.5" width="3.0" height="3.0" stroke="#000" stroke-width="0.7" fill="none" rx="0"/>
<rect x="883.5" y="624.5" width="3.0" height="4.0" stroke="#000" stroke-width="0.7" fill="none" rx="0"/>
<rect x="883.5" y="719.5" width="3.0" height="3.0" stroke="#000" stroke-width="0.7" fill="none" rx="0"/>
<rect x="889.5" y="624.5" width="3.0" height="4.0" stroke="#000" stroke-width="0.7" fill="none" rx="0"/>
<rect x="889.5" y="719.5" width="3.0" height="3.0" stroke="#000" stroke-width="0.7" fill="none" rx="0"/>
<rect x="894.5" y="624.5" width="3.0" height="4.0" stroke="#000" stroke-width="0.7" fill="none" rx="0"/>
<rect x="894.5" y="719.5" width="3.0" height="3.0" stroke="#000" stroke-width="0.7" fill="none" rx="0"/>
<rect x="900.5" y="624.5" width="3.0" height="4.0" stroke="#000" stroke-width="0.7" fill="none" rx="0"/>
<rect x="900.5" y="719.5" width="3.0" height="3.0" stroke="#000" stroke-width="0.7" fill="none" rx="0"/>
<rect x="905.5" y="624.5" width="3.0" height="4.0" stroke="#000" stroke-width="0.7" fill="none" rx="0"/>
<rect x="905.5" y="719.5" width="3.0" height="3.0" stroke="#000" stroke-width="0.7" fill="none" rx="0"/>
<rect x="911.5" y="624.5" width="3.0" height="4.0" stroke="#000" stroke-width="0.7" fill="none" rx="0"/>
<rect x="911.5" y="719.5" width="3.0" height="3.0" stroke="#000" stroke-width="0.7" fill="none" rx="0"/>
<rect x="916.5" y="624.5" width="3.0" height="4.0" stroke="#000" stroke-width="0.7" fill="none" rx="0"/>
<rect x="916.5" y="719.5" width="3.0" height="3.0" stroke="#000" stroke-width="0.7" fill="none" rx="0"/>
<path d="M985.1,628.3 L985.1,670.4 L974.3,670.4 L974.3,678.2 L985.1,678.2 L985.1,719.2" stroke="#000" stroke-width="1.0" fill="none" />
<rect x="995.5" y="622.5" width="3.0" height="6.0" stroke="#000" stroke-width="0.9" fill="none" rx="0"/>
<rect x="995.5" y="719.5" width="3.0" height="7.0" stroke="#000" stroke-width="0.9" fill="none" rx="0"/>
<line x1="864.0" y1="625.5" x2="985.0" y2="625.5" stroke="#aaa" stroke-width="0.6" />
<line x1="864.0" y1="722.5" x2="985.0" y2="722.5" stroke="#aaa" stroke-width="0.6" />
<line x1="785.8" y1="739.0" x2="839.8" y2="739.0" stroke="#000" stroke-width="1.6" />
<path d="M953,723 L960,723 L956.5,727 Z" stroke="#333" stroke-width="0.8" fill="#555" />
<line x1="1310.5" y1="0.0" x2="1310.5" y2="778.0" stroke="#8c8c8c" stroke-width="1.0" />
<line x1="1310.5" y1="778.0" x2="1310.5" y2="819.0" stroke="#111" stroke-width="1.0" />
<circle cx="263.7" cy="733.1" r="6.6" stroke="none" stroke-width="0" fill="#e2e2e2"/>
<path d="M260.2,733.1 h7 M262.2,730.0 q3,-1 3.5,2 v5" stroke="#fff" stroke-width="1.2" fill="none" />
<text x="0" y="0" style="font-family:'Liberation Sans';font-size:13px;text-rendering:geometricPrecision" text-anchor="start" fill="#e0e0e0" transform="translate(271.2 738.0) rotate(0) scale(1 1)" textLength="61" lengthAdjust="spacingAndGlyphs">AQUANET</text>
<circle cx="366.8" cy="733.1" r="6.6" stroke="none" stroke-width="0" fill="#e2e2e2"/>
<path d="M363.3,733.1 h7 M365.3,730.0 q3,-1 3.5,2 v5" stroke="#fff" stroke-width="1.2" fill="none" />
<text x="0" y="0" style="font-family:'Liberation Sans';font-size:13px;text-rendering:geometricPrecision" text-anchor="start" fill="#e0e0e0" transform="translate(374.3 738.0) rotate(0) scale(1 1)" textLength="61" lengthAdjust="spacingAndGlyphs">AQUANET</text>
<circle cx="470.0" cy="733.1" r="6.6" stroke="none" stroke-width="0" fill="#e2e2e2"/>
<path d="M466.5,733.1 h7 M468.5,730.0 q3,-1 3.5,2 v5" stroke="#fff" stroke-width="1.2" fill="none" />
<text x="0" y="0" style="font-family:'Liberation Sans';font-size:13px;text-rendering:geometricPrecision" text-anchor="start" fill="#e0e0e0" transform="translate(477.5 738.0) rotate(0) scale(1 1)" textLength="61" lengthAdjust="spacingAndGlyphs">AQUANET</text>
<circle cx="573.1" cy="733.1" r="6.6" stroke="none" stroke-width="0" fill="#e2e2e2"/>
<path d="M569.6,733.1 h7 M571.6,730.0 q3,-1 3.5,2 v5" stroke="#fff" stroke-width="1.2" fill="none" />
<text x="0" y="0" style="font-family:'Liberation Sans';font-size:13px;text-rendering:geometricPrecision" text-anchor="start" fill="#e0e0e0" transform="translate(580.6 738.0) rotate(0) scale(1 1)" textLength="61" lengthAdjust="spacingAndGlyphs">AQUANET</text>
<circle cx="676.2" cy="733.1" r="6.6" stroke="none" stroke-width="0" fill="#e2e2e2"/>
<path d="M672.7,733.1 h7 M674.7,730.0 q3,-1 3.5,2 v5" stroke="#fff" stroke-width="1.2" fill="none" />
<text x="0" y="0" style="font-family:'Liberation Sans';font-size:13px;text-rendering:geometricPrecision" text-anchor="start" fill="#e0e0e0" transform="translate(683.7 738.0) rotate(0) scale(1 1)" textLength="61" lengthAdjust="spacingAndGlyphs">AQUANET</text>
<circle cx="779.4" cy="733.1" r="6.6" stroke="none" stroke-width="0" fill="#e2e2e2"/>
<path d="M775.9,733.1 h7 M777.9,730.0 q3,-1 3.5,2 v5" stroke="#fff" stroke-width="1.2" fill="none" />
<text x="0" y="0" style="font-family:'Liberation Sans';font-size:13px;text-rendering:geometricPrecision" text-anchor="start" fill="#e0e0e0" transform="translate(786.9 738.0) rotate(0) scale(1 1)" textLength="61" lengthAdjust="spacingAndGlyphs">AQUANET</text>
<circle cx="882.5" cy="733.1" r="6.6" stroke="none" stroke-width="0" fill="#e2e2e2"/>
<path d="M879.0,733.1 h7 M881.0,730.0 q3,-1 3.5,2 v5" stroke="#fff" stroke-width="1.2" fill="none" />
<text x="0" y="0" style="font-family:'Liberation Sans';font-size:13px;text-rendering:geometricPrecision" text-anchor="start" fill="#e0e0e0" transform="translate(890.0 738.0) rotate(0) scale(1 1)" textLength="61" lengthAdjust="spacingAndGlyphs">AQUANET</text>
<circle cx="985.7" cy="733.1" r="6.6" stroke="none" stroke-width="0" fill="#e2e2e2"/>
<path d="M982.2,733.1 h7 M984.2,730.0 q3,-1 3.5,2 v5" stroke="#fff" stroke-width="1.2" fill="none" />
<text x="0" y="0" style="font-family:'Liberation Sans';font-size:13px;text-rendering:geometricPrecision" text-anchor="start" fill="#e0e0e0" transform="translate(993.2 738.0) rotate(0) scale(1 1)" textLength="61" lengthAdjust="spacingAndGlyphs">AQUANET</text>
<line x1="1079.0" y1="28.7" x2="1263.0" y2="68.0" stroke="#3a3a3a" stroke-width="0.9" />
<line x1="1066.4" y1="40.2" x2="1251.0" y2="82.0" stroke="#3a3a3a" stroke-width="0.9" />
<line x1="1052.0" y1="54.4" x2="1250.0" y2="95.0" stroke="#3a3a3a" stroke-width="0.9" />
<line x1="1050.0" y1="57.0" x2="1248.0" y2="98.5" stroke="#777" stroke-width="0.8" />
<path d="M1058.5,35 L1057.2,24 Q1058,21 1062,20.5 L1076,20.5 Q1079,21.5 1078.7,25 L1078.3,28.5 L1066.4,40.2 L1053,52.9" stroke="#3a3a3a" stroke-width="0.9" fill="#fff" />
<line x1="1062.0" y1="21.0" x2="1074.0" y2="28.0" stroke="#3a3a3a" stroke-width="0.6" />
<line x1="1074.0" y1="28.0" x2="1078.5" y2="26.0" stroke="#3a3a3a" stroke-width="0.6" />
<ellipse cx="1064.0" cy="28.0" rx="2.2" ry="3.2" stroke="#3a3a3a" stroke-width="0.8" fill="none" transform="rotate(-30 1064.0 28.0)"/>
<line x1="1063.0" y1="38.0" x2="1074.0" y2="27.0" stroke="#3a3a3a" stroke-width="0.6" />
<line x1="1064.5" y1="39.5" x2="1075.5" y2="28.5" stroke="#3a3a3a" stroke-width="0.6" />
<path d="M1029,40 a6.7,6.7 0 1 1 11.5,3.5 L1053,46 Q1055,48 1053,51 L1051,54" stroke="#3a3a3a" stroke-width="0.9" fill="#fff" />
<circle cx="1033.2" cy="41.5" r="2.5" stroke="#3a3a3a" stroke-width="0.8" fill="none"/>
<line x1="1036.0" y1="45.7" x2="1037.0" y2="56.0" stroke="#3a3a3a" stroke-width="0.8" />
<line x1="1039.4" y1="46.7" x2="1039.6" y2="57.0" stroke="#3a3a3a" stroke-width="0.8" />
<line x1="1031.0" y1="46.0" x2="1029.5" y2="55.0" stroke="#3a3a3a" stroke-width="0.7" />
<line x1="1033.0" y1="47.0" x2="1031.5" y2="55.5" stroke="#3a3a3a" stroke-width="0.7" />
<path d="M1005.3,49.3 L1012,43 Q1014,41.6 1016,43.5 L1021.2,52.9" stroke="#3a3a3a" stroke-width="0.9" fill="none" />
<line x1="1014.5" y1="43.0" x2="1017.5" y2="51.0" stroke="#3a3a3a" stroke-width="0.7" />
<path d="M1256,79 L1264,67 Q1274,60 1284,64 L1287.5,71 L1286.5,83 L1279,89 L1266,87 Z" stroke="#3a3a3a" stroke-width="0.9" fill="#fff" />
<circle cx="1276.0" cy="74.2" r="3.0" stroke="#3a3a3a" stroke-width="0.8" fill="none"/>
<line x1="1262.0" y1="70.0" x2="1270.0" y2="80.0" stroke="#3a3a3a" stroke-width="0.7" />
<line x1="1270.0" y1="80.0" x2="1286.0" y2="83.0" stroke="#3a3a3a" stroke-width="0.7" />
<path d="M1243.6,90 L1247,158 L1252,161 L1276,143 L1277.5,96 L1262,85 Z" stroke="#3a3a3a" stroke-width="0.9" fill="#fff" />
<path d="M1251,104 L1252.5,150 L1271,137 L1272,101 Z" stroke="#3a3a3a" stroke-width="0.8" fill="none" />
<line x1="1247.0" y1="92.0" x2="1262.0" y2="86.0" stroke="#3a3a3a" stroke-width="0.8" />
<line x1="1255.0" y1="98.0" x2="1272.0" y2="95.0" stroke="#3a3a3a" stroke-width="0.7" />
<line x1="1247.0" y1="158.0" x2="1266.0" y2="145.0" stroke="#3a3a3a" stroke-width="0.7" />
<line x1="1258.5" y1="150.0" x2="1258.5" y2="108.0" stroke="#777" stroke-width="0.6" />
<path d="M1275,119 L1287,114 Q1291,115 1291,121 L1290.5,133 L1281,137.5 L1276,135 Z" stroke="#3a3a3a" stroke-width="0.9" fill="#fff" />
<circle cx="1281.0" cy="128.5" r="2.5" stroke="#3a3a3a" stroke-width="0.8" fill="none"/>
<path d="M1252,152 L1259,142 L1269,141 L1275,151 Q1277,162 1269,165.5 L1259,165.5 Q1252,163 1252,156 Z" stroke="#3a3a3a" stroke-width="0.9" fill="#fff" />
<circle cx="1265.8" cy="157.5" r="3.0" stroke="#3a3a3a" stroke-width="0.8" fill="none"/>
<path d="M1229.5,96.5 L1230.1,158.5" stroke="#333" stroke-width="0.8" fill="none" />
<path d="M1231.2,96.8 L1231.8,158.3" stroke="#333" stroke-width="0.8" fill="none" />
<path d="M1233.0,97.1 L1233.6,158.1" stroke="#333" stroke-width="0.8" fill="none" />
<path d="M1234.8,97.4 L1235.3,157.9" stroke="#333" stroke-width="0.8" fill="none" />
<path d="M1236.5,97.7 L1237.1,157.7" stroke="#333" stroke-width="0.8" fill="none" />
<path d="M1238.2,98.0 L1238.8,157.5" stroke="#333" stroke-width="0.8" fill="none" />
<path d="M1240.0,98.3 L1240.6,157.3" stroke="#333" stroke-width="0.8" fill="none" />
<path d="M1241.8,98.6 L1242.3,157.1" stroke="#333" stroke-width="0.8" fill="none" />
<path d="M1243.5,98.9 L1244.1,156.9" stroke="#333" stroke-width="0.8" fill="none" />
<path d="M1245.2,99.2 L1245.8,156.7" stroke="#333" stroke-width="0.8" fill="none" />
<path d="M1247.0,99.5 L1247.6,156.5" stroke="#333" stroke-width="0.8" fill="none" />
<path d="M1228,97 Q1236,94 1247,96" stroke="#444" stroke-width="0.8" fill="none" />
<path d="M947,38 L1225,95 Q1231,96.5 1231.5,102 L1232.5,162 Q1232.5,169 1226,168.7 L952,111 Q946.5,110 946,104 L941.2,45 Q941,37 947,38 Z" stroke="#3a3a3a" stroke-width="1.0" fill="#fff" />
<path d="M989,82 L924,145 Q908,160 903.5,191 L903.5,199.5" stroke="#3a3a3a" stroke-width="18.5" fill="none" />
<circle cx="989.0" cy="82.0" r="9.2" stroke="none" stroke-width="0" fill="#3a3a3a"/>
<path d="M989,82 L924,145 Q908,160 903.5,191 L903.5,199.5" stroke="#fff" stroke-width="16.5" fill="none" />
<circle cx="989.0" cy="82.0" r="8.2" stroke="none" stroke-width="0" fill="#fff"/>
<path d="M917.7,139 Q926,143 930.4,151" stroke="#3a3a3a" stroke-width="0.9" fill="none" />
<path d="M895,191 Q904,193.5 912.2,191.5" stroke="#3a3a3a" stroke-width="0.9" fill="none" />
<path d="M1036,114 L1053,97" stroke="#3a3a3a" stroke-width="25" fill="none" stroke-linecap="round"/>
<path d="M1036,114 L1053,97" stroke="#fff" stroke-width="23" fill="none" stroke-linecap="round"/>
<path d="M1041,118 q6,4 13,-1 l1,6 q-5,8 -13,6 z" stroke="#222" stroke-width="0.8" fill="#333" />
<line x1="1043.0" y1="121.0" x2="1054.0" y2="119.0" stroke="#aaa" stroke-width="0.6" />
<line x1="1043.0" y1="125.0" x2="1053.0" y2="124.0" stroke="#aaa" stroke-width="0.6" />
<path d="M1025.5,108 A12,12 0 0 1 1047,117" stroke="#3a3a3a" stroke-width="1.0" fill="none" />
<path d="M1031,118 L1036,112" stroke="#3a3a3a" stroke-width="24.5" fill="none" stroke-linecap="round"/>
<path d="M1031,118 L1036,112" stroke="#fff" stroke-width="22.5" fill="none" stroke-linecap="round"/>
<ellipse cx="1027.6" cy="122.8" rx="12.5" ry="11.7" stroke="#3a3a3a" stroke-width="1.0" fill="#fff" transform="rotate(-30 1027.6 122.8)"/>
<path d="M1109,120.4 L1118,112.5" stroke="#888" stroke-width="24.6" fill="none" stroke-linecap="round"/>
<path d="M1109,120.4 L1118,112.5" stroke="#fff" stroke-width="22.6" fill="none" stroke-linecap="round"/>
<path d="M1109,120.4 L1115,115.6" stroke="#111" stroke-width="24.6" fill="none" stroke-linecap="round"/>
<ellipse cx="1109.0" cy="120.4" rx="12.3" ry="12.1" stroke="#3a3a3a" stroke-width="1.0" fill="#fff" transform="rotate(-30 1109.0 120.4)"/>
<path d="M1172.5,161 L1174.5,202" stroke="#3a3a3a" stroke-width="10" fill="none" stroke-linecap="round"/>
<path d="M1172.5,161 L1174.5,202" stroke="#fff" stroke-width="8" fill="none" stroke-linecap="round"/>
<line x1="1166.5" y1="160.5" x2="1179.0" y2="160.5" stroke="none" stroke-width="0" />
<path d="M1165.1,143.1 L1182,128.5" stroke="#666" stroke-width="37.4" fill="none" stroke-linecap="round"/>
<path d="M1165.1,143.1 L1182,128.5" stroke="#fff" stroke-width="35.6" fill="none" stroke-linecap="round"/>
<path d="M1172,135 A18.7,18.7 0 0 1 1192,118" stroke="#888" stroke-width="0.7" fill="none" />
<path d="M1165.1,143.1 L1174,135.8" stroke="#111" stroke-width="37.4" fill="none" stroke-linecap="round"/>
<ellipse cx="1165.1" cy="143.1" rx="18.7" ry="18.7" stroke="#3a3a3a" stroke-width="1.0" fill="#fff" transform="rotate(0 1165.1 143.1)"/>
<ellipse cx="1164.6" cy="143.6" rx="17.0" ry="17.0" stroke="#999" stroke-width="0.6" fill="none" transform="rotate(0 1164.6 143.6)"/>
</svg>
</body></html>
